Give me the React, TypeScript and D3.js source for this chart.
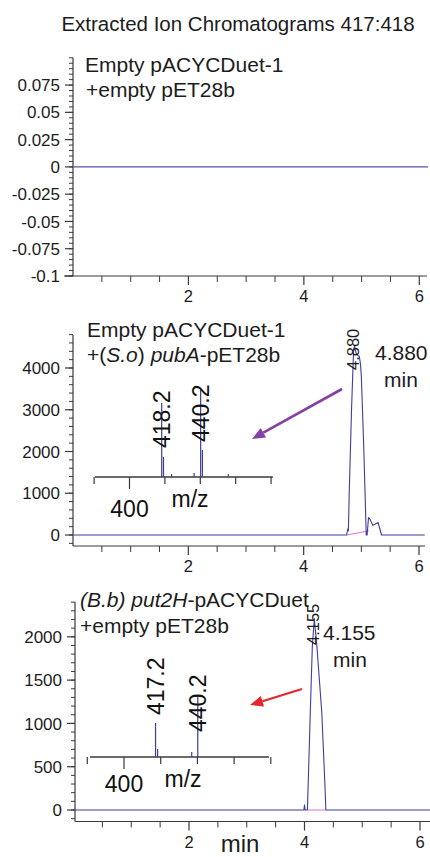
import React from "react";
import * as d3 from "d3";

// ---------- DATA ----------
const titleText = "Extracted Ion Chromatograms 417:418";

const xMajorTicks = [2, 4, 6];
const xMinorTicks = [0.5, 1, 1.5, 2.5, 3, 3.5, 4.5, 5, 5.5];

// Panel 1 (empty + empty)
const p1YTicks = [-0.1, -0.075, -0.05, -0.025, 0, 0.025, 0.05, 0.075];
const p1YTickLabels = ["-0.1", "-0.075", "-0.05", "-0.025", "0", "0.025", "0.05", "0.075"];
const p1Time = [0, 6.15];
const p1Intensity = [0, 0];

// Panel 2 (pubA)
const p2YTicks = [0, 1000, 2000, 3000, 4000];
const p2YTickLabels = ["0", "1000", "2000", "3000", "4000"];
const p2Time = [0, 4.745, 4.765, 4.775, 4.79, 4.83, 4.865, 4.88, 4.91, 4.94, 4.965, 4.985, 5.0, 5.04, 5.085, 5.1, 5.125, 5.15, 5.2, 5.25, 5.29, 5.32, 5.35, 6.1];
const p2Intensity = [0, 0, 150, 100, 1000, 3000, 4400, 4520, 4350, 4300, 4280, 4100, 3800, 2200, 0, 0, 420, 380, 230, 270, 300, 150, 0, 0];
const p2BaselineTime = [4.745, 5.13];
const p2BaselineIntensity = [0, 100];
const p2PeakLabel = "4.880";

// Panel 3 (put2H)
const p3YTicks = [0, 500, 1000, 1500, 2000];
const p3YTickLabels = ["0", "500", "1000", "1500", "2000"];
const p3Time = [0, 3.99, 4.0, 4.01, 4.05, 4.066, 4.1, 4.135, 4.17, 4.216, 4.3, 4.35, 4.37, 6.2];
const p3Intensity = [0, 0, 60, 0, 0, 346, 1120, 1880, 2210, 1880, 1120, 346, 0, 0];
const p3BaselineTime = [4.06, 4.36];
const p3BaselineIntensity = [0, 0];
const p3PeakLabel = "4.155";

// Insets (mass spectra)
const inset2Mz = [418.2, 419.2, 423.8, 436.5, 440.2, 441.2, 455.8];
const inset2Rel = [74, 20, 3, 4, 89, 27, 3];
const inset2Labels = ["418.2", "440.2"];
const inset2LabelMz = [418.2, 440.2];
const inset2Ticks = [380, 400, 420, 440, 460, 480];

const inset3Mz = [417.2, 418.3, 436.9, 440.2];
const inset3Rel = [34, 8, 5, 62];
const inset3Labels = ["417.2", "440.2"];
const inset3LabelMz = [417.2, 440.2];
const inset3Ticks = [380, 400, 420, 440, 460, 480];

const lineNames1 = ["Empty pACYCDuet-1", "+empty pET28b"];

// ---------- STYLE ----------
const FONT = "'Liberation Sans', Arial, Helvetica, sans-serif";
const TEXT = "#1c1c1c";
const AXIS = "#3a3a3a";
const TRACE = "#3d3d9e";
const PINK = "#e070c8";

type PanelProps = {
  x0: number; x6: number; xAxisY: number; xAxisStart: number; xAxisEnd: number;
  yAxisX: number; yDomain: [number, number]; yRange: [number, number];
  yAxisTop: number; yAxisBottom: number; yTicks: number[]; yTickLabels: string[];
  yMinorStep: number; yMinorFrom: number; yMinorTo: number; yLabelRight: number;
  times: number[]; values: number[];
  baseT?: number[]; baseV?: number[];
  traceColor?: string;
};

function Panel(p: PanelProps) {
  const x = d3.scaleLinear().domain([0, 6]).range([p.x0, p.x6]);
  const y = d3.scaleLinear().domain(p.yDomain).range(p.yRange);
  const pts = p.times.map((t, i) => [x(t), y(p.values[i])] as [number, number]);
  const line = d3.line().curve(d3.curveLinear)(pts) || "";
  let basePath = "";
  if (p.baseT && p.baseV) {
    basePath = d3.line()(p.baseT.map((t, i) => [x(t), y(p.baseV![i])] as [number, number])) || "";
  }
  const minor: number[] = [];
  const nMinor = Math.round((p.yMinorTo - p.yMinorFrom) / p.yMinorStep);
  for (let i = 0; i <= nMinor; i++) minor.push(p.yMinorFrom + i * p.yMinorStep);
  return (
    <g>
      <line x1={p.yAxisX} x2={p.yAxisX} y1={p.yAxisTop} y2={p.yAxisBottom} stroke={AXIS} strokeWidth={1.2} />
      {minor.map((v, i) => (
        <line key={"ym" + i} x1={p.yAxisX - 4} x2={p.yAxisX} y1={y(v)} y2={y(v)} stroke={AXIS} strokeWidth={1} />
      ))}
      {p.yTicks.map((v, i) => (
        <g key={"yt" + i}>
          <line x1={p.yAxisX - 8} x2={p.yAxisX} y1={y(v)} y2={y(v)} stroke={AXIS} strokeWidth={1.2} />
          <text x={p.yLabelRight} y={y(v)} dy="0.36em" textAnchor="end" fontSize={17} fontFamily={FONT} fill={TEXT}>
            {p.yTickLabels[i]}
          </text>
        </g>
      ))}
      <line x1={p.xAxisStart} x2={p.xAxisEnd} y1={p.xAxisY} y2={p.xAxisY} stroke={AXIS} strokeWidth={1.2} />
      {xMinorTicks.map((t, i) => (
        <line key={"xm" + i} x1={x(t)} x2={x(t)} y1={p.xAxisY} y2={p.xAxisY + 6} stroke={AXIS} strokeWidth={1} />
      ))}
      {xMajorTicks.map((t, i) => (
        <g key={"xt" + i}>
          <line x1={x(t)} x2={x(t)} y1={p.xAxisY} y2={p.xAxisY + 9} stroke={AXIS} strokeWidth={1.2} />
          <text x={x(t)} y={p.xAxisY + 26} textAnchor="middle" fontSize={16.5} fontFamily={FONT} fill={TEXT}>
            {String(t)}
          </text>
        </g>
      ))}
      {basePath && <path d={basePath} fill="none" stroke={PINK} strokeWidth={1} />}
      <path d={line} fill="none" stroke={p.traceColor || TRACE} strokeWidth={1.1} strokeLinejoin="round" />
    </g>
  );
}

type InsetProps = {
  baseY: number; x400: number; perUnit: number; startMz: number; endMz: number;
  mz: number[]; rel: number[]; ticks: number[]; labels: string[]; labelMz: number[];
  labelBottoms: number[]; tickLabelY: number; mzLabelX: number; mzLabelY: number;
};

function Inset(p: InsetProps) {
  const x = d3.scaleLinear().domain([400, 500]).range([p.x400, p.x400 + 100 * p.perUnit]);
  const y = d3.scaleLinear().domain([0, 100]).range([p.baseY, p.baseY - 100]);
  return (
    <g>
      <line x1={x(p.startMz)} x2={x(p.endMz)} y1={p.baseY} y2={p.baseY} stroke={AXIS} strokeWidth={1.3} />
      {p.ticks.map((m, i) => (
        <line key={"it" + i} x1={x(m)} x2={x(m)} y1={p.baseY} y2={p.baseY + (m === 400 ? 12 : 7)} stroke={AXIS} strokeWidth={1.2} />
      ))}
      {p.mz.map((m, i) => (
        <line key={"ip" + i} x1={x(m)} x2={x(m)} y1={y(0)} y2={y(p.rel[i])} stroke={TRACE} strokeWidth={1.2} />
      ))}
      {p.labels.map((l, i) => (
        <text key={"il" + i} transform={`translate(${x(p.labelMz[i])},${p.labelBottoms[i]}) rotate(-90)`}
          dominantBaseline="central" fontSize={23} fontFamily={FONT} fill="#111">
          {l}
        </text>
      ))}
      <text x={x(400)} y={p.tickLabelY} textAnchor="middle" fontSize={23} fontFamily={FONT} fill="#111">400</text>
      <text x={p.mzLabelX} y={p.mzLabelY} textAnchor="middle" fontSize={23} fontFamily={FONT} fill="#111">m/z</text>
    </g>
  );
}

function Arrow({ x1, y1, x2, y2, color, w }: { x1: number; y1: number; x2: number; y2: number; color: string; w: number }) {
  const ang = Math.atan2(y2 - y1, x2 - x1);
  const hl = 13, hw = 5.5;
  const bx = x2 - hl * Math.cos(ang), by = y2 - hl * Math.sin(ang);
  const px = -Math.sin(ang) * hw, py = Math.cos(ang) * hw;
  return (
    <g>
      <line x1={x1} y1={y1} x2={bx} y2={by} stroke={color} strokeWidth={w} />
      <polygon points={`${x2},${y2} ${bx + px},${by + py} ${bx - px},${by - py}`} fill={color} />
    </g>
  );
}

export default function App() {
  return (
    <svg width={430} height={857} viewBox="0 0 430 857"
      style={{ position: "absolute", left: 0, top: 0, background: "#fff" }}>
      <rect width={430} height={857} fill="#fff" />
      <text x={238} y={31} textAnchor="middle" fontSize={20.5} fontFamily={FONT} fill={TEXT}>{titleText}</text>

      {/* Panel 1 */}
      <Panel x0={73} x6={419.3} xAxisY={276} xAxisStart={64} xAxisEnd={427}
        yAxisX={73} yDomain={[-0.1, 0.1]} yRange={[276, 57.8]} yAxisTop={57.8} yAxisBottom={276}
        yTicks={p1YTicks} yTickLabels={p1YTickLabels} yMinorStep={0.005} yMinorFrom={-0.1} yMinorTo={0.1}
        yLabelRight={60} times={p1Time} values={p1Intensity} traceColor="#5555a8" />
      <text x={85} y={72} fontSize={21} fontFamily={FONT} fill={TEXT}>{lineNames1[0]}</text>
      <text x={86} y={97} fontSize={21} fontFamily={FONT} fill={TEXT}>{lineNames1[1]}</text>

      {/* Panel 2 */}
      <Panel x0={73} x6={419} xAxisY={546} xAxisStart={73} xAxisEnd={425}
        yAxisX={73} yDomain={[0, 4000]} yRange={[535, 368]} yAxisTop={335} yAxisBottom={546}
        yTicks={p2YTicks} yTickLabels={p2YTickLabels} yMinorStep={200} yMinorFrom={-200} yMinorTo={4800}
        yLabelRight={60} times={p2Time} values={p2Intensity} baseT={p2BaselineTime} baseV={p2BaselineIntensity} />
      <text x={87} y={337} fontSize={21} fontFamily={FONT} fill={TEXT}>Empty pACYCDuet-1</text>
      <text x={87} y={362} fontSize={21} fontFamily={FONT} fill={TEXT}>
        +(<tspan fontStyle="italic">S.o</tspan>) <tspan fontStyle="italic">pubA</tspan>-pET28b
      </text>
      <text transform="translate(353,370) rotate(-90)" dominantBaseline="central" fontSize={16.5} fontFamily={FONT} fill={TEXT}>{p2PeakLabel}</text>
      <text x={375} y={360} fontSize={21} fontFamily={FONT} fill={TEXT}>{p2PeakLabel}</text>
      <text x={401} y={387} textAnchor="middle" fontSize={21} fontFamily={FONT} fill={TEXT}>min</text>
      <Inset baseY={477} x400={129.5} perUnit={1.77} startMz={380.5} endMz={481}
        mz={inset2Mz} rel={inset2Rel} ticks={inset2Ticks} labels={inset2Labels} labelMz={inset2LabelMz}
        labelBottoms={[448, 442]} tickLabelY={517} mzLabelX={190} mzLabelY={507} />
      <Arrow x1={342} y1={389} x2={252} y2={439} color="#8540a8" w={2.6} />

      {/* Panel 3 */}
      <Panel x0={73.5} x6={420} xAxisY={821.5} xAxisStart={75} xAxisEnd={430}
        yAxisX={75} yDomain={[0, 2000]} yRange={[810, 636.8]} yAxisTop={602} yAxisBottom={821.5}
        yTicks={p3YTicks} yTickLabels={p3YTickLabels} yMinorStep={100} yMinorFrom={-100} yMinorTo={2400}
        yLabelRight={62} times={p3Time} values={p3Intensity} baseT={p3BaselineTime} baseV={p3BaselineIntensity} />
      <text x={80} y={607} fontSize={21} fontFamily={FONT} fill={TEXT}>
        <tspan fontStyle="italic">(B.b) put2H</tspan>-pACYCDuet
      </text>
      <text x={80} y={633} fontSize={21} fontFamily={FONT} fill={TEXT}>+empty pET28b</text>
      <text transform="translate(313,645) rotate(-90)" dominantBaseline="central" fontSize={16.5} fontFamily={FONT} fill={TEXT}>{p3PeakLabel}</text>
      <text x={323} y={640} fontSize={21} fontFamily={FONT} fill={TEXT}>{p3PeakLabel}</text>
      <text x={350} y={667} textAnchor="middle" fontSize={21} fontFamily={FONT} fill={TEXT}>min</text>
      <Inset baseY={757} x400={124} perUnit={1.835} startMz={381.5} endMz={479}
        mz={inset3Mz} rel={inset3Rel} ticks={inset3Ticks} labels={inset3Labels} labelMz={inset3LabelMz}
        labelBottoms={[715, 732]} tickLabelY={792} mzLabelX={183} mzLabelY={787} />
      <Arrow x1={302} y1={689} x2={250} y2={705} color="#e5262a" w={2.2} />

      <text x={240} y={852} textAnchor="middle" fontSize={24} fontFamily={FONT} fill={TEXT}>min</text>
    </svg>
  );
}
